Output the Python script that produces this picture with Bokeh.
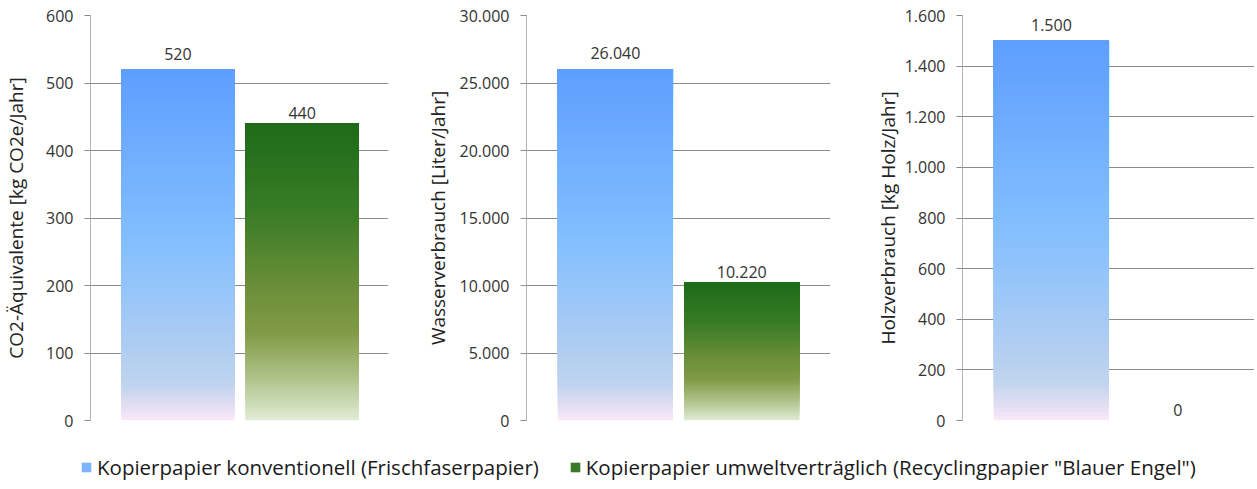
import numpy as np
from bokeh.plotting import figure
from bokeh.models import (Range1d, FixedTicker, CustomJSTickFormatter, Legend,
                          LegendItem, ColumnDataSource)
from bokeh.layouts import column, row
from bokeh.embed import file_html
from bokeh.resources import INLINE

# ---------------- data ----------------
series = ["Kopierpapier konventionell (Frischfaserpapier)",
          'Kopierpapier umweltverträglich (Recyclingpapier "Blauer Engel")']
co2 = [520, 440]
wasser = [26040, 10220]
holz = [1500, 0]
axis_titles = ["CO2-Äquivalente [kg CO2e/Jahr]",
               "Wasserverbrauch [Liter/Jahr]",
               "Holzverbrauch [kg Holz/Jahr]"]
co2_ticks = [0, 100, 200, 300, 400, 500, 600]
wasser_ticks = [0, 5000, 10000, 15000, 20000, 25000, 30000]
holz_ticks = [0, 200, 400, 600, 800, 1000, 1200, 1400, 1600]

# ---------------- styles ----------------
FONT = "Open Sans"
TXT = "#333333"
GRID = "#8C8C8C"
blue_stops = [(0.0, (94, 158, 255)), (0.5, (132, 191, 255)), (0.75, (168, 202, 243)),
              (0.9, (192, 212, 238)), (0.96, (228, 222, 242)), (1.0, (250, 232, 248))]
green_stops = [(0.0, (29, 107, 24)), (0.3, (58, 124, 38)), (0.55, (108, 142, 58)),
               (0.7, (128, 154, 70)), (0.85, (172, 192, 134)), (1.0, (225, 236, 214))]
stops_by_series = [blue_stops, green_stops]
swatch_colors = ["#7DB3FF", "#3A7A26"]
label_offsets = [-16, -11]


def grad(stops, t):
    for (t0, c0), (t1, c1) in zip(stops[:-1], stops[1:]):
        if t <= t1:
            f = 0 if t1 == t0 else (t - t0) / (t1 - t0)
            c = [round(a + (b - a) * f) for a, b in zip(c0, c1)]
            return "#%02x%02x%02x" % tuple(c)
    return "#%02x%02x%02x" % stops[-1][1]


def de_fmt(v):
    return f"{v:,}".replace(",", ".")


fmt_js = CustomJSTickFormatter(code="""
return tick.toFixed(0).replace(/\\B(?=(\\d{3})+(?!\\d))/g, ".");
""")

N = 90
UNIT = 126.3   # screen px per category step
X0 = -0.704


def panel(values, ticks, title, width, frame_w, top_border, bottom_border,
          left_border, right_border, standoff):
    p = figure(width=width, height=440, output_backend="svg", toolbar_location=None,
               x_range=Range1d(X0, X0 + frame_w / UNIT),
               y_range=Range1d(ticks[0], ticks[-1]),
               min_border_left=left_border, min_border_right=right_border,
               min_border_top=top_border, min_border_bottom=bottom_border)
    p.outline_line_color = None
    p.xaxis.visible = False
    p.xgrid.visible = False
    p.ygrid.grid_line_color = GRID
    p.ygrid.grid_line_width = 1
    ax = p.yaxis[0]
    ax.ticker = FixedTicker(ticks=ticks)
    ax.formatter = fmt_js
    ax.axis_line_color = "#B4B4B4"
    ax.major_tick_line_color = GRID
    ax.major_tick_out = 6
    ax.major_tick_in = 0
    ax.minor_tick_line_color = None
    ax.major_label_text_font = FONT
    ax.major_label_text_font_size = "16px"
    ax.major_label_text_color = TXT
    ax.major_label_standoff = 11
    ax.axis_label = title
    ax.axis_label_text_font = FONT
    ax.axis_label_text_font_size = "19px"
    ax.axis_label_text_font_style = "normal"
    ax.axis_label_text_color = "#222222"
    ax.axis_label_standoff = standoff

    xs = list(range(len(values)))
    for i, v in enumerate(values):
        stops = stops_by_series[i]
        bottoms = [v * k / N for k in range(N)]
        cols = [grad(stops, 1 - (k + 0.5) / N) for k in range(N)]
        if v > 0:
            src = ColumnDataSource(dict(x=[xs[i]] * N, bottom=bottoms, top=[v] * N, c=cols))
            p.vbar(x="x", bottom="bottom", top="top", width=0.912, source=src,
                   fill_color="c", line_color=None)
        p.text(x=[xs[i]], y=[v], text=[de_fmt(v)], text_align="center",
               text_baseline="alphabetic", y_offset=label_offsets[i],
               text_font_size="16px", text_font={"value": FONT}, text_color=TXT)
    return p


p1 = panel(co2, co2_ticks, axis_titles[0], 392, 303, 11, 20, 85, 4, 14)
p2 = panel(wasser, wasser_ticks, axis_titles[1], 442, 304, 12, 19, 134, 4, 6)
p3 = panel(holz, holz_ticks, axis_titles[2], 420, 292, 15, 16, 128, 0, 1)

# ---------------- legend ----------------
lf = figure(width=1254, height=41, output_backend="svg", toolbar_location=None,
            x_range=Range1d(0, 1), y_range=Range1d(0, 1), min_border=0)
lf.outline_line_color = None
lf.axis.visible = False
lf.grid.visible = False
items = []
for name, col in zip(series, swatch_colors):
    src = ColumnDataSource(dict(l=[np.nan], r=[np.nan], t=[np.nan], b=[np.nan]))
    r = lf.quad(left="l", right="r", top="t", bottom="b", source=src,
                fill_color=col, line_color=None)
    items.append(LegendItem(label=name, renderers=[r]))
leg = Legend(items=items, orientation="horizontal", location=(80, 0),
             glyph_width=12, glyph_height=12, label_standoff=5, spacing=30,
             padding=0, margin=0, border_line_color=None, background_fill_alpha=0,
             label_text_font=FONT, label_text_font_size="20.5px", label_text_color="#1a1a1a")
lf.add_layout(leg, "center")

layout = column(row(p1, p2, p3, spacing=0), lf, spacing=0)
open("out.html", "w").write(file_html(layout, INLINE))
